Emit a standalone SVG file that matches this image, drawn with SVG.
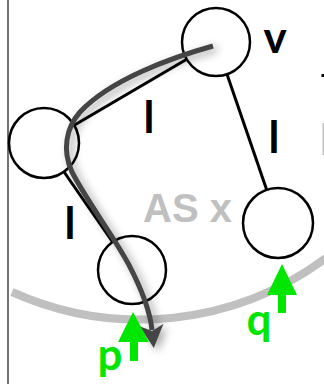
<svg xmlns="http://www.w3.org/2000/svg" width="324" height="384" viewBox="0 0 324 384">
<defs>
<style>
.node{fill:#fff;stroke:#000;stroke-width:2.5}
.edge{stroke:#000;stroke-width:3;fill:none}
.lbl{font-family:Lato,"Open Sans",sans-serif;font-weight:bold;font-size:44px;fill:#000;text-anchor:middle}
.green{fill:#00e600}
.gtxt{font-family:Lato,"Open Sans",sans-serif;font-weight:bold;font-size:44px;fill:#00e600;text-anchor:middle}
</style>
<filter id="sh" x="-30%" y="-30%" width="160%" height="160%">
<feDropShadow dx="4" dy="3" stdDeviation="4" flood-color="#000" flood-opacity="0.35"/>
</filter>
<marker id="ah" markerUnits="userSpaceOnUse" markerWidth="30" markerHeight="26" refX="5" refY="12" orient="auto" viewBox="0 0 30 26">
<path d="M0 0 L23 12 L0 24 L6 12 Z" fill="#444"/>
</marker>
</defs>
<line x1="8" y1="0" x2="8" y2="384" stroke="#444" stroke-width="1.5"/>
<path d="M12 292 A312 312 0 0 0 326 258" fill="none" stroke="#c0c0c0" stroke-width="8"/>
<text x="143" y="222" font-family="'Liberation Sans',Arial,sans-serif" font-weight="bold" font-size="40" fill="#c0c0c0">AS x</text>
<g id="connectors">
<line class="edge" x1="73.3" y1="125.8" x2="186.7" y2="59.2"/>
<line class="edge" x1="227" y1="74.2" x2="267" y2="190.8"/>
<line class="edge" x1="63.4" y1="171" x2="112.6" y2="242"/>
</g>
<g id="node-left"><circle class="node" cx="44" cy="143" r="35"/></g>
<g id="node-v"><circle class="node" cx="216" cy="42" r="34"/></g>
<g id="node-p"><circle class="node" cx="132" cy="270" r="34"/></g>
<g id="node-q"><circle class="node" cx="278" cy="223" r="35"/></g>
<text class="lbl" x="275" y="53">v</text>
<text class="lbl" x="149" y="133">l</text>
<text class="lbl" x="274" y="153">l</text>
<text class="lbl" x="70" y="239">l</text>
<g id="path-arrow" filter="url(#sh)">
<path d="M213 46 C170 58,110 80,80 112 C66 128,62 150,72 172 C88 203,113 235,129 265 C142 290,150 310,152 330" fill="none" stroke="#444" stroke-width="5" marker-end="url(#ah)"/>
</g>
<g id="arrow-p">
<rect class="green" x="130" y="338" width="8" height="23"/>
<polygon class="green" points="133,312 118,342 149,342"/>
<text class="gtxt" x="110" y="370">p</text>
</g>
<g id="arrow-q">
<rect class="green" x="278" y="292" width="8" height="21"/>
<polygon class="green" points="282,264 267,295 297,295"/>
<text class="gtxt" x="259" y="335">q</text>
</g>
<rect x="321.5" y="74" width="2.5" height="3" fill="#000"/>
<rect x="322.5" y="123" width="1.5" height="32" fill="#c0c0c0"/>
</svg>
